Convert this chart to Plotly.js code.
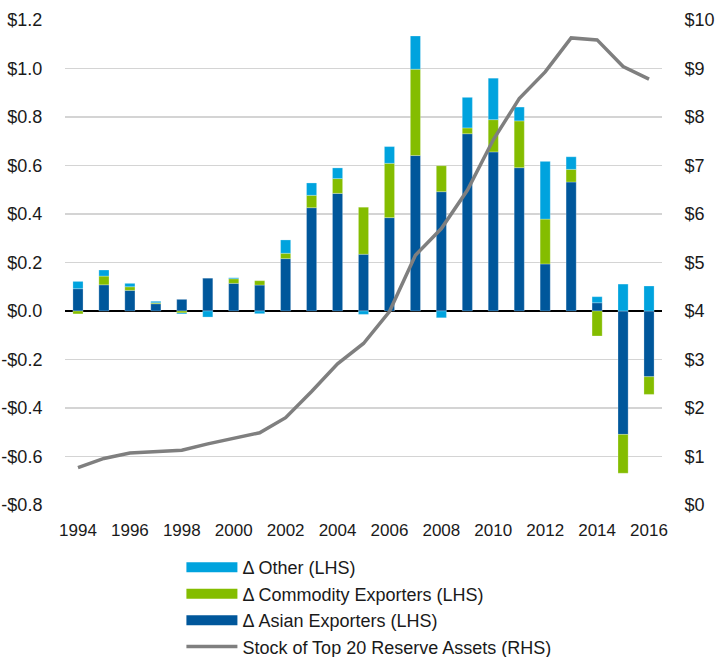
<!DOCTYPE html>
<html>
<head>
<meta charset="utf-8">
<script src="https://cdn.plot.ly/plotly-3.0.1.min.js"></script>
<style>
  body { margin: 0; background: #fff; }
  #chart { width: 727px; height: 657px; }
</style>
</head>
<body>
<div id="chart"></div>
<script>
const years = [1994, 1995, 1996, 1997, 1998, 1999, 2000, 2001, 2002, 2003, 2004, 2005,
               2006, 2007, 2008, 2009, 2010, 2011, 2012, 2013, 2014, 2015, 2016];

// change in reserves, $ trillions (LHS)
const asianExporters = [0.092, 0.108, 0.085, 0.030, 0.048, 0.136, 0.114, 0.107, 0.216, 0.426, 0.485, 0.234,
                        0.385, 0.641, 0.492, 0.731, 0.656, 0.591, 0.194, 0.532, 0.034, -0.509, -0.271];
const commodityExporters = [-0.012, 0.036, 0.015, 0.004, -0.008, 0.000, 0.019, 0.018, 0.022, 0.051, 0.061, 0.194,
                            0.224, 0.356, 0.107, 0.024, 0.133, 0.193, 0.185, 0.052, -0.103, -0.160, -0.073];
const otherCountries = [0.030, 0.025, 0.014, 0.006, -0.004, -0.025, 0.004, -0.011, 0.055, 0.051, 0.044, -0.014,
                        0.069, 0.137, -0.028, 0.126, 0.171, 0.057, 0.238, 0.052, 0.025, 0.111, 0.103];

// stock of top 20 reserve assets, $ trillions (RHS)
const reserveStock = [0.77, 0.96, 1.07, 1.10, 1.13, 1.26, 1.37, 1.49, 1.80, 2.34, 2.91, 3.33,
                      3.99, 5.15, 5.70, 6.49, 7.53, 8.38, 8.93, 9.63, 9.59, 9.04, 8.78];

const leftTicks = [-0.8, -0.6, -0.4, -0.2, 0, 0.2, 0.4, 0.6, 0.8, 1.0, 1.2];
const leftTickText = leftTicks.map(v => (v < 0 ? '-$' : '$') + Math.abs(v).toFixed(1));
const rightTicks = [0, 1, 2, 3, 4, 5, 6, 7, 8, 9, 10];
const rightTickText = rightTicks.map(v => '$' + v);
const yearTicks = years.filter(y => y % 2 === 0);

const names = ['\u0394 Other (LHS)', '\u0394 Commodity Exporters (LHS)', '\u0394 Asian Exporters (LHS)',
               'Stock of Top 20 Reserve Assets (RHS)'];
const colors = { asian: '#00579b', commodity: '#84bd00', other: '#00a3de', line: '#7f7f7f' };

const barLine = { color: 'rgba(255,255,255,0.5)', width: 0.5 };

const traces = [
    { type: 'bar', x: years, y: asianExporters, marker: { color: colors.asian, line: barLine },
      showlegend: false, hoverinfo: 'x+y' },
    { type: 'bar', x: years, y: commodityExporters, marker: { color: colors.commodity, line: barLine },
      showlegend: false, hoverinfo: 'x+y' },
    { type: 'bar', x: years, y: otherCountries, marker: { color: colors.other, line: barLine },
      showlegend: false, hoverinfo: 'x+y' },
    { type: 'scatter', mode: 'lines', x: years, y: reserveStock, yaxis: 'y2',
      line: { color: colors.line, width: 3.5 }, showlegend: false },
    // legend-only entries, to get wide swatches like the original
    { type: 'scatter', mode: 'lines', x: [null], y: [null], name: names[0],
      line: { color: colors.other, width: 11 }, legendrank: 1 },
    { type: 'scatter', mode: 'lines', x: [null], y: [null], name: names[1],
      line: { color: colors.commodity, width: 11 }, legendrank: 2 },
    { type: 'scatter', mode: 'lines', x: [null], y: [null], name: names[2],
      line: { color: colors.asian, width: 11 }, legendrank: 3 },
    { type: 'scatter', mode: 'lines', x: [null], y: [null], name: names[3],
      line: { color: colors.line, width: 3.5 }, legendrank: 4 }
];

const font = { family: 'Liberation Sans, Arial, sans-serif', size: 18, color: '#1a1a1a' };

const layout = {
    width: 727,
    height: 657,
    margin: { l: 65, r: 65, t: 20, b: 152, autoexpand: false },
    paper_bgcolor: '#fff',
    plot_bgcolor: '#fff',
    font: font,
    barmode: 'relative',
    bargap: 0.61,
    showlegend: true,
    legend: {
        x: 0.195, y: -0.091, xanchor: 'left', yanchor: 'top',
        font: { family: font.family, size: 18, color: '#1a1a1a' },
        itemwidth: 51,
        tracegroupgap: 0,
        bgcolor: 'rgba(0,0,0,0)'
    },
    xaxis: {
        range: [1993.5, 2016.5],
        tickvals: yearTicks,
        ticktext: yearTicks.map(String),
        ticks: 'outside', ticklen: 10, tickcolor: 'rgba(0,0,0,0)',
        tickfont: { size: 17 },
        showgrid: false, zeroline: false, showline: false,
        fixedrange: true
    },
    yaxis: {
        range: [-0.8, 1.2],
        tickvals: leftTicks,
        ticktext: leftTickText,
        ticks: 'outside', ticklen: 18, tickcolor: 'rgba(0,0,0,0)',
        showgrid: true, gridcolor: '#d4d4d4', gridwidth: 1.5,
        zeroline: true, zerolinecolor: '#000', zerolinewidth: 1.5,
        showline: false,
        fixedrange: true
    },
    yaxis2: {
        overlaying: 'y',
        side: 'right',
        range: [0, 10],
        tickvals: rightTicks,
        ticktext: rightTickText,
        ticks: 'outside', ticklen: 18, tickcolor: 'rgba(0,0,0,0)',
        showgrid: false, zeroline: false, showline: false,
        fixedrange: true
    }
};

Plotly.newPlot('chart', traces, layout, { displayModeBar: false, staticPlot: true });
</script>
</body>
</html>
